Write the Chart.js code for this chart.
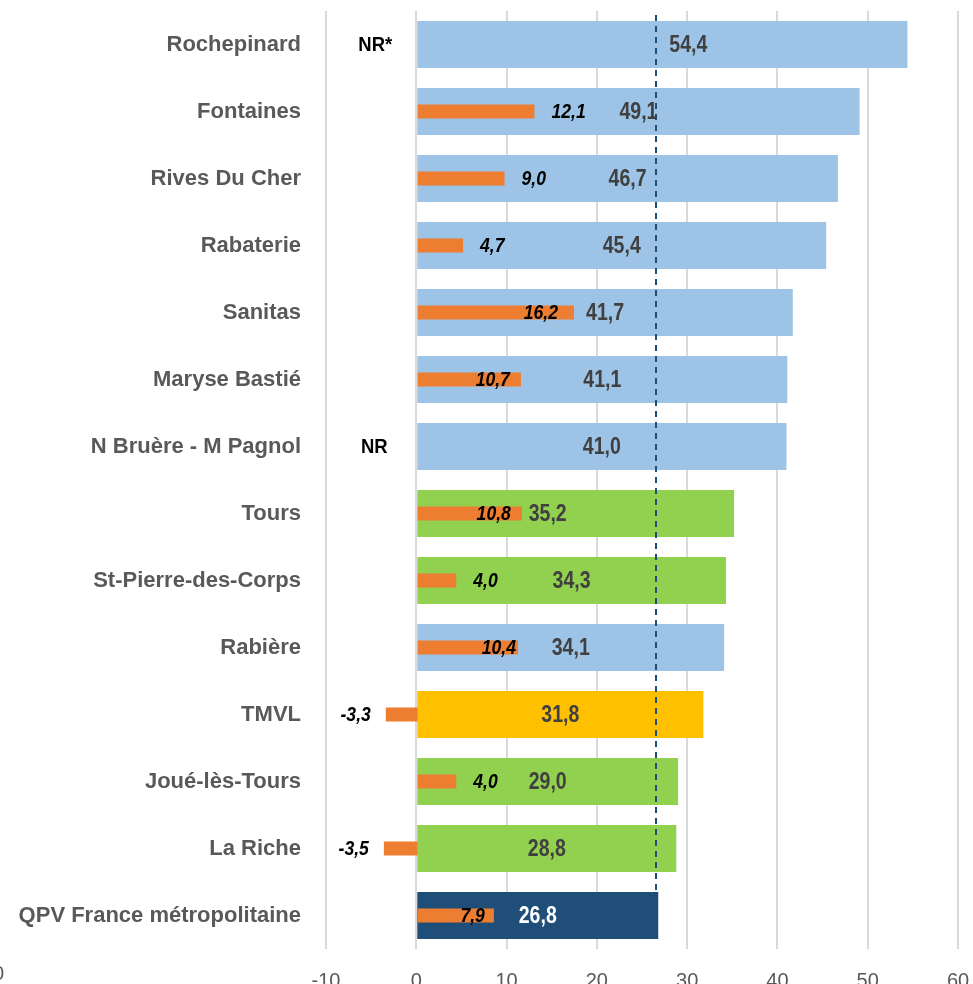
<!DOCTYPE html>
<html>
<head>
<meta charset="utf-8">
<script src="https://cdn.jsdelivr.net/npm/chart.js@4.4.1/dist/chart.umd.min.js"></script>
<style>
  html, body { margin: 0; padding: 0; background: #ffffff; }
  #wrap { width: 973px; height: 984px; position: relative; }
</style>
</head>
<body>
<div id="wrap"><canvas id="c"></canvas></div>
<script>
// ---- data ----
const categories = ['Rochepinard', 'Fontaines', 'Rives Du Cher', 'Rabaterie', 'Sanitas', 'Maryse Bastié',
  'N Bruère - M Pagnol', 'Tours', 'St-Pierre-des-Corps', 'Rabière', 'TMVL', 'Joué-lès-Tours', 'La Riche',
  'QPV France métropolitaine'];
const rateValues = [54.4, 49.1, 46.7, 45.4, 41.7, 41.1, 41.0, 35.2, 34.3, 34.1, 31.8, 29.0, 28.8, 26.8];
const changeValues = [null, 12.1, 9.0, 4.7, 16.2, 10.7, null, 10.8, 4.0, 10.4, -3.3, 4.0, -3.5, 7.9];
const changeNotes = ['NR*', null, null, null, null, null, 'NR', null, null, null, null, null, null, null];
const xTicks = [-10, 0, 10, 20, 30, 40, 50, 60];
const referenceValue = rateValues[rateValues.length - 1];

// ---- styles ----
const FONT = "'Liberation Sans', Arial, sans-serif";
const barColors = ['#9DC3E6', '#9DC3E6', '#9DC3E6', '#9DC3E6', '#9DC3E6', '#9DC3E6', '#9DC3E6',
  '#92D050', '#92D050', '#9DC3E6', '#FFC000', '#92D050', '#92D050', '#1F4E79'];
const rateLabelColors = categories.map((c, i) => i === categories.length - 1 ? '#FFFFFF' : '#404040');
const rateLabelShift = {0: 26, 7: -28};
// labels placed inside the orange bar end (right-aligned, px gap from bar end); others outside
const changeLabelInside = {4: -16, 5: -11, 7: -11, 9: -2, 13: -9};

const fmt = v => v.toFixed(1).replace('.', ',');

function narrowText(ctx, txt, x, y, align, sx) {
  ctx.save();
  ctx.translate(x, y);
  ctx.scale(sx, 1);
  ctx.textAlign = align;
  ctx.fillText(txt, 0, 0);
  ctx.restore();
}

const labelsPlugin = {
  id: 'valueLabels',
  afterDatasetsDraw(chart) {
    const ctx = chart.ctx;
    const area = chart.chartArea;
    const xs = chart.scales.x;
    const rateMeta = chart.getDatasetMeta(1);
    const chgMeta = chart.getDatasetMeta(0);
    // reference dashed line
    const last = rateMeta.data[rateMeta.data.length - 1];
    const rx = Math.round(xs.getPixelForValue(referenceValue)) - 2;
    ctx.save();
    ctx.strokeStyle = '#1F4E79';
    ctx.lineWidth = 2;
    ctx.setLineDash([6, 5]);
    ctx.beginPath();
    ctx.moveTo(rx, area.top + 4);
    ctx.lineTo(rx, last.y - last.height / 2);
    ctx.stroke();
    ctx.restore();

    ctx.save();
    ctx.textBaseline = 'middle';
    // rate labels
    ctx.font = 'bold 23px ' + FONT;
    rateMeta.data.forEach((bar, i) => {
      const cx = (bar.base + bar.x) / 2 + (rateLabelShift[i] || 0);
      ctx.fillStyle = rateLabelColors[i];
      narrowText(ctx, fmt(rateValues[i]), cx, bar.y + 1, 'center', 0.85);
    });
    // change labels
    ctx.font = 'bold italic 20px ' + FONT;
    ctx.fillStyle = '#000000';
    chgMeta.data.forEach((bar, i) => {
      const v = changeValues[i];
      if (v === null || v === undefined) return;
      const txt = fmt(v);
      if (v < 0) {
        narrowText(ctx, txt, bar.x - 15, bar.y + 1, 'right', 0.88);
      } else if (changeLabelInside[i] !== undefined) {
        narrowText(ctx, txt, bar.x + changeLabelInside[i], bar.y + 1, 'right', 0.88);
      } else {
        narrowText(ctx, txt, bar.x + 17, bar.y + 1, 'left', 0.88);
      }
    });
    // NR notes
    ctx.font = 'bold 21px ' + FONT;
    rateMeta.data.forEach((bar, i) => {
      if (!changeNotes[i]) return;
      const off = changeNotes[i].length > 2 ? 1 : 0;
      narrowText(ctx, changeNotes[i], xs.getPixelForValue(-4.65) + off, bar.y + 1, 'center', 0.88);
    });
    // clipped fragment at bottom-left edge
    ctx.font = '20px ' + FONT;
    ctx.fillStyle = '#595959';
    ctx.textAlign = 'right';
    ctx.textBaseline = 'top';
    ctx.fillText('0', 4, 964);
    ctx.restore();
  }
};

new Chart(document.getElementById('c'), {
  type: 'bar',
  data: {
    labels: categories,
    datasets: [
      {
        label: 'Évolution',
        data: changeValues,
        xAxisID: 'x2',
        backgroundColor: '#ED7D31',
        barPercentage: 0.21,
        categoryPercentage: 1,
        grouped: false,
        order: 0
      },
      {
        label: 'Taux',
        data: rateValues,
        xAxisID: 'x',
        backgroundColor: barColors,
        barPercentage: 0.705,
        categoryPercentage: 1,
        grouped: false,
        order: 1
      }
    ]
  },
  options: {
    indexAxis: 'y',
    responsive: true,
    maintainAspectRatio: false,
    animation: false,
    layout: { padding: { top: 11, right: 15, left: 0, bottom: 0 } },
    plugins: { legend: { display: false }, tooltip: { enabled: false } },
    scales: {
      x: {
        position: 'bottom',
        min: xTicks[0],
        max: xTicks[xTicks.length - 1],
        afterBuildTicks(scale) { scale.ticks = xTicks.map(v => ({ value: v })); },
        ticks: {
          color: '#595959',
          font: { family: FONT, size: 20 },
          padding: 20,
          callback: v => String(v)
        },
        grid: { color: '#D9D9D9', lineWidth: 2, drawTicks: false },
        border: { display: false },
        afterFit(scale) { scale.height = 35; scale.paddingLeft = 0; scale.paddingRight = 0; }
      },
      x2: {
        display: false,
        min: -9.5,
        max: 56
      },
      y: {
        grid: { display: false, drawTicks: false },
        border: { display: false },
        ticks: {
          color: '#595959',
          font: { family: FONT, size: 22, weight: 'bold' },
          padding: 25
        },
        afterFit(scale) { scale.width = 326; scale.paddingTop = 0; scale.paddingBottom = 0; }
      }
    }
  },
  plugins: [labelsPlugin]
});
</script>
</body>
</html>
